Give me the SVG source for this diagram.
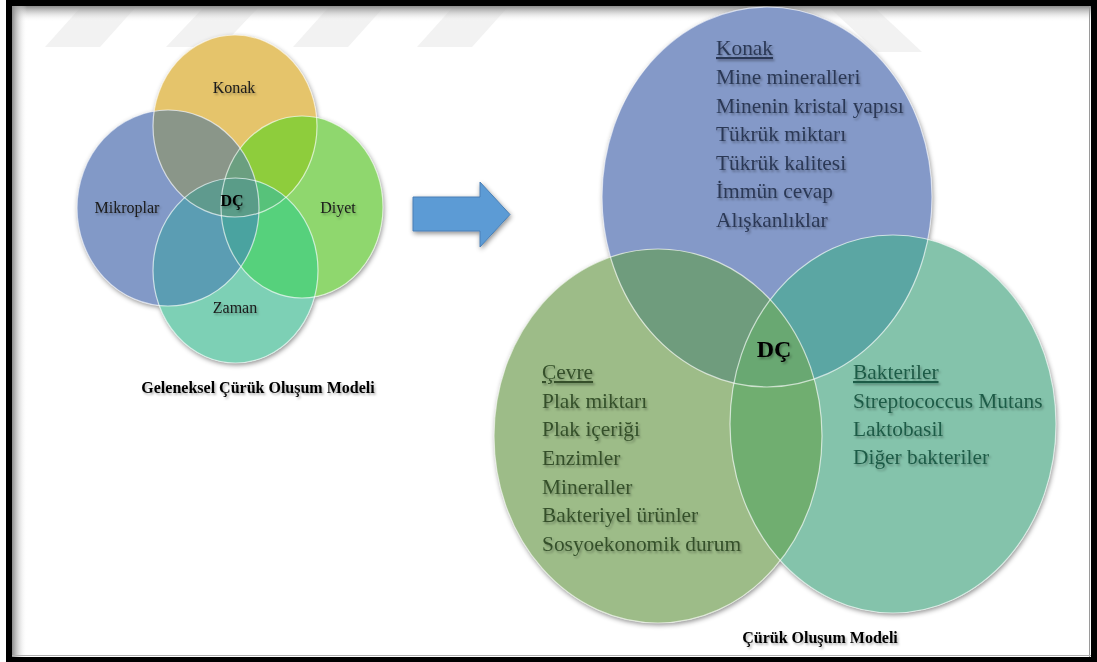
<svg xmlns="http://www.w3.org/2000/svg" xmlns:xlink="http://www.w3.org/1999/xlink" width="1097" height="662" viewBox="0 0 1097 662">
<style>
.lbl{font-family:"Liberation Serif","Times New Roman",serif;font-size:16px;fill:#1a1a1a}
.b{font-weight:bold;fill:#000}
.rt{font-family:"Liberation Serif","Times New Roman",serif;font-size:21.4px}
.outl{fill:none;stroke:#ffffff;stroke-opacity:0.65;stroke-width:1.2}
.wm{fill:#f2f2f2}
</style>
<defs>
<filter id="sh" x="-10%" y="-10%" width="120%" height="120%">
<feDropShadow dx="1" dy="2" stdDeviation="2.5" flood-color="#000" flood-opacity="0.45"/>
</filter>
<filter id="tsh" x="-10%" y="-30%" width="120%" height="160%">
<feDropShadow dx="1.5" dy="2" stdDeviation="1.3" flood-color="#000" flood-opacity="0.3"/>
</filter>
<linearGradient id="gTop" x1="0" y1="0" x2="0" y2="1">
<stop offset="0" stop-color="#8a8a8a"/><stop offset="1" stop-color="#ffffff" stop-opacity="0"/>
</linearGradient>
<linearGradient id="gLeft" x1="0" y1="0" x2="1" y2="0">
<stop offset="0" stop-color="#8a8a8a"/><stop offset="1" stop-color="#ffffff" stop-opacity="0"/>
</linearGradient>
<!-- left venn shapes -->
<ellipse id="eK" cx="235" cy="126" rx="82" ry="91"/>
<ellipse id="eM" cx="168" cy="208" rx="91" ry="98"/>
<ellipse id="eD" cx="302" cy="207" rx="81" ry="91"/>
<ellipse id="eZ" cx="235.5" cy="270.5" rx="82.5" ry="92.5"/>
<!-- right venn shapes -->
<ellipse id="eB" cx="767" cy="197" rx="165" ry="190"/>
<ellipse id="eG" cx="658" cy="436" rx="164" ry="187"/>
<ellipse id="eT" cx="893" cy="424" rx="163" ry="189"/>
<clipPath id="cK"><use href="#eK"/></clipPath>
<clipPath id="cM"><use href="#eM"/></clipPath>
<clipPath id="cD"><use href="#eD"/></clipPath>
<clipPath id="cZ"><use href="#eZ"/></clipPath>
<clipPath id="cB"><use href="#eB"/></clipPath>
<clipPath id="cG"><use href="#eG"/></clipPath>
<clipPath id="cT"><use href="#eT"/></clipPath>
</defs>

<!-- background and frame -->
<rect x="0" y="0" width="1097" height="662" fill="#ffffff"/>
<g id="watermark">
<polygon class="wm" points="80,8 135,8 100,47 45,47"/>
<polygon class="wm" points="203,8 258,8 221,47 166,47"/>
<polygon class="wm" points="328,8 383,8 348,47 293,47"/>
<polygon class="wm" points="452,8 507,8 472,47 417,47"/>
<polygon class="wm" points="830,8 875,8 922,52 877,52"/>
</g>
<path d="M6 0H1097V662H6Z M12 6V657H1091V6Z" fill="#000" fill-rule="evenodd"/>
<rect x="12" y="6" width="1079" height="16" fill="url(#gTop)"/>
<rect x="12" y="6" width="15" height="651" fill="url(#gLeft)"/>
<line x1="1089.5" y1="6" x2="1089.5" y2="657" stroke="#9a9a9a" stroke-width="1"/>
<line x1="12" y1="655.5" x2="1091" y2="655.5" stroke="#b0b0b0" stroke-width="1"/>

<!-- LEFT VENN -->
<g id="left-venn">
<g id="left-shadow" filter="url(#sh)">
<use href="#eK" fill="#e5c46b"/>
<use href="#eM" fill="#8299c7"/>
<use href="#eD" fill="#8fd76e"/>
<use href="#eZ" fill="#7dd0b5"/>
</g>
<g id="node-konak"><use href="#eK" fill="#e5c46b"/></g>
<g id="node-mikroplar"><use href="#eM" fill="#8299c7"/></g>
<g id="node-diyet"><use href="#eD" fill="#8fd76e"/></g>
<g id="node-zaman"><use href="#eZ" fill="#7dd0b5"/></g>
<g id="left-overlaps">
<g clip-path="url(#cK)"><use href="#eM" fill="#8a9689"/></g>
<g clip-path="url(#cK)"><use href="#eD" fill="#8ecd3c"/></g>
<g clip-path="url(#cM)"><use href="#eZ" fill="#5b9db3"/></g>
<g clip-path="url(#cD)"><use href="#eZ" fill="#56d17c"/></g>
<g clip-path="url(#cM)"><use href="#eD" fill="#5a9c88"/></g>
<g clip-path="url(#cK)"><g clip-path="url(#cM)"><use href="#eD" fill="#6b9f80"/></g></g>
<g clip-path="url(#cK)"><g clip-path="url(#cM)"><use href="#eZ" fill="#5f9a8e"/></g></g>
<g clip-path="url(#cK)"><g clip-path="url(#cD)"><use href="#eZ" fill="#57c27a"/></g></g>
<g clip-path="url(#cM)"><g clip-path="url(#cD)"><use href="#eZ" fill="#4aa3a0"/></g></g>
<g clip-path="url(#cK)"><g clip-path="url(#cM)"><g clip-path="url(#cD)"><use href="#eZ" fill="#5a9c88"/></g></g></g>
</g>
<g id="left-outlines">
<use href="#eK" class="outl"/>
<use href="#eM" class="outl"/>
<use href="#eD" class="outl"/>
<use href="#eZ" class="outl"/>
</g>
<g id="left-labels" filter="url(#tsh)">
<text class="lbl" x="234" y="93" text-anchor="middle">Konak</text>
<text class="lbl" x="127" y="213" text-anchor="middle">Mikroplar</text>
<text class="lbl" x="338" y="213" text-anchor="middle">Diyet</text>
<text class="lbl" x="235" y="313" text-anchor="middle">Zaman</text>
<text class="lbl b" x="232" y="206" text-anchor="middle">DÇ</text>
<text class="lbl b" x="258" y="393" text-anchor="middle">Geleneksel Çürük Oluşum Modeli</text>
</g>
</g>

<!-- ARROW -->
<g id="connectors">
<polygon points="413,197 480,197 480,182 510,214.5 480,247 480,231 413,231" fill="#5b9bd5" stroke="#4a7fb5" stroke-width="1" filter="url(#sh)"/>
</g>

<!-- RIGHT VENN -->
<g id="right-venn">
<g id="right-shadow" filter="url(#sh)">
<use href="#eB" fill="#8499c8"/>
<use href="#eG" fill="#9dbc88"/>
<use href="#eT" fill="#84c3ab"/>
</g>
<g id="node-r-konak"><use href="#eB" fill="#8499c8"/></g>
<g id="node-r-cevre"><use href="#eG" fill="#9dbc88"/></g>
<g id="node-r-bakteriler"><use href="#eT" fill="#84c3ab"/></g>
<g id="right-overlaps">
<g clip-path="url(#cB)"><use href="#eG" fill="#6f9c7d"/></g>
<g clip-path="url(#cB)"><use href="#eT" fill="#5ba6a3"/></g>
<g clip-path="url(#cG)"><use href="#eT" fill="#70ae70"/></g>
<g clip-path="url(#cB)"><g clip-path="url(#cG)"><use href="#eT" fill="#69a872"/></g></g>
</g>
<g id="right-outlines">
<use href="#eB" class="outl"/>
<use href="#eG" class="outl"/>
<use href="#eT" class="outl"/>
</g>
<g id="r-konak-text" class="rt" fill="#2b3855" filter="url(#tsh)">
<text x="716" y="55" text-decoration="underline">Konak</text>
<text x="716" y="84">Mine mineralleri</text>
<text x="716" y="113">Minenin kristal yapısı</text>
<text x="716" y="141">Tükrük miktarı</text>
<text x="716" y="170">Tükrük kalitesi</text>
<text x="716" y="198">İmmün cevap</text>
<text x="716" y="227">Alışkanlıklar</text>
</g>
<g id="r-cevre-text" class="rt" fill="#34502a" filter="url(#tsh)">
<text x="542" y="379" text-decoration="underline">Çevre</text>
<text x="542" y="408">Plak miktarı</text>
<text x="542" y="436">Plak içeriği</text>
<text x="542" y="465">Enzimler</text>
<text x="542" y="494">Mineraller</text>
<text x="542" y="522">Bakteriyel ürünler</text>
<text x="542" y="551">Sosyoekonomik durum</text>
</g>
<g id="r-bakteriler-text" class="rt" fill="#1f5b47" filter="url(#tsh)">
<text x="853" y="379" text-decoration="underline">Bakteriler</text>
<text x="853" y="408">Streptococcus Mutans</text>
<text x="853" y="436">Laktobasil</text>
<text x="853" y="464">Diğer bakteriler</text>
</g>
<g id="r-labels" filter="url(#tsh)">
<text class="lbl b" x="774" y="357" text-anchor="middle" style="font-size:24px">DÇ</text>
<text class="lbl b" x="820" y="643" text-anchor="middle">Çürük Oluşum Modeli</text>
</g>
</g>
</svg>
